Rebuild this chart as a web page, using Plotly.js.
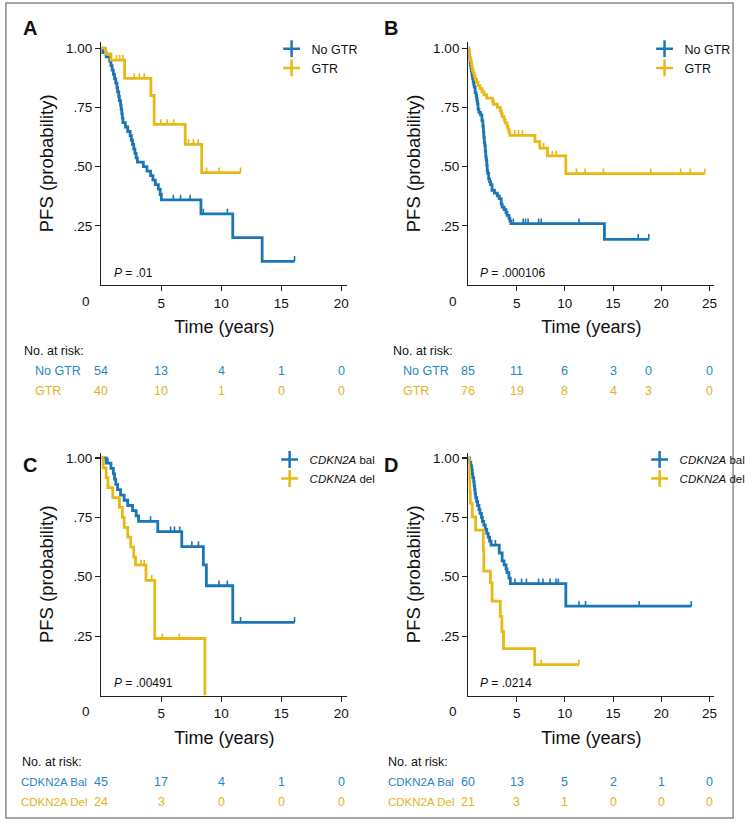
<!DOCTYPE html>
<html>
<head>
<meta charset="utf-8">
<script src="https://cdn.plot.ly/plotly-3.0.1.min.js"></script>
<style>
  html, body { margin: 0; padding: 0; background: #fff; }
  #chart { width: 751px; height: 823px; }
</style>
</head>
<body>
<div id="chart"></div>
<script>
// ---- Panel A: GTR vs no GTR (cohort 1) ----
const aNoGtrTime = [0.1,0.4,0.7,0.8,0.9,1.0,1.1,1.2,1.3,1.35,1.45,1.5,1.6,1.65,1.7,1.75,1.8,2.0,2.2,2.4,2.5,2.6,2.7,2.8,2.9,3.0,3.5,3.8,4.1,4.3,4.5,4.75,4.9,5.0,8.3,10.95,13.4];
const aNoGtrSurv = [.981,.963,.944,.926,.907,.889,.870,.852,.833,.815,.796,.778,.759,.741,.722,.704,.685,.667,.648,.630,.611,.593,.574,.556,.537,.519,.500,.481,.462,.443,.424,.405,.382,.359,.30,.20,.10];
const aNoGtrCensor = [6.0,6.6,7.4,8.5,10.5,16.1];
const aNoGtrEnd = 16.1;
const aGtrTime = [0.35,0.8,1.94,4.13,4.4,6.99,8.36];
const aGtrSurv = [0.975,0.949,0.872,0.80,0.678,0.594,0.474];
const aGtrCensor = [1.26,1.53,1.8,2.75,3.16,3.57,4.95,5.49,6.04,7.26,7.67,8.08,8.77,9.8,11.6];
const aGtrEnd = 11.6;
const aRiskNoGtr = [54,13,4,1,0];
const aRiskGtr = [40,10,1,0,0];

// ---- Panel B: GTR vs no GTR (cohort 2) ----
const bNoGtrTime = [0.03,0.06,0.1,0.13,0.16,0.2,0.25,0.3,0.35,0.4,0.45,0.5,0.55,0.6,0.7,0.8,0.85,0.9,0.95,1.0,1.1,1.25,1.4,1.5,1.55,1.6,1.65,1.7,1.75,1.8,1.85,1.9,1.95,2.0,2.1,2.2,2.3,2.45,2.7,3.0,3.2,3.4,3.5,3.7,3.9,4.0,4.2,4.3,4.4,14.1];
const bNoGtrSurv = [.988,.976,.965,.953,.941,.929,.918,.906,.894,.882,.871,.859,.847,.835,.812,.800,.788,.776,.765,.741,.729,.718,.694,.671,.647,.624,.600,.588,.565,.541,.529,.506,.482,.471,.447,.435,.424,.400,.388,.376,.365,.341,.329,.318,.306,.294,.282,.271,.259,.193];
const bNoGtrCensor = [4.66,5.68,5.92,6.19,7.28,7.55,11.46,17.6,18.7];
const bNoGtrEnd = 18.7;
const bGtrTime = [0.05,0.1,0.15,0.2,0.3,0.35,0.4,0.5,0.6,0.7,0.85,1.0,1.2,1.4,1.6,1.9,2.5,2.6,3.0,3.3,3.4,3.5,3.7,3.8,4.0,4.1,4.2,4.3,6.9,7.4,8.2,10.1];
const bGtrSurv = [.987,.974,.961,.947,.934,.921,.908,.895,.882,.868,.855,.842,.829,.816,.803,.789,.776,.763,.750,.737,.724,.711,.697,.684,.671,.658,.645,.632,.605,.578,.545,.470];
const bGtrCensor = [4.8,5.2,5.6,7.8,8.7,9.1,11.2,12.1,14.0,18.9,22.0,23.0,24.5];
const bGtrEnd = 24.5;
const bRiskNoGtr = [85,11,6,3,0,0];
const bRiskGtr = [76,19,8,4,3,0];

// ---- Panel C: CDKN2A balanced vs deleted (cohort 1) ----
const cBalTime = [0.4,0.8,1.0,1.1,1.2,1.35,1.6,1.9,2.2,2.6,2.9,3.1,4.7,6.7,8.5,8.75,10.95];
const cBalSurv = [.978,.956,.933,.911,.889,.867,.844,.822,.800,.778,.756,.733,.690,.627,.550,.462,.308];
const cBalCensor = [0.55,4.1,5.77,6.09,6.53,7.54,8.09,9.8,10.5,11.6,16.1];
const cBalEnd = 16.1;
const cDelTime = [0.15,0.4,0.55,0.95,1.5,1.75,1.9,2.2,2.45,2.7,2.85,3.72,4.45,8.63];
const cDelSurv = [.958,.917,.875,.833,.792,.750,.708,.667,.625,.583,.550,.485,.240,0];
const cDelCensor = [3.3,3.57,4.2,5.08,6.5];
const cDelEnd = 8.63;
const cRiskBal = [45,17,4,1,0];
const cRiskDel = [24,3,0,0,0];

// ---- Panel D: CDKN2A balanced vs deleted (cohort 2) ----
const dBalTime = [0.1,0.25,0.35,0.4,0.45,0.55,0.6,0.65,0.7,0.75,0.85,0.95,1.1,1.2,1.35,1.45,1.6,1.75,1.9,2.05,2.2,2.35,3.2,3.5,3.7,3.9,4.0,4.2,4.35,10.1];
const dBalSurv = [.983,.967,.950,.933,.917,.900,.883,.867,.850,.833,.817,.800,.783,.767,.750,.733,.717,.700,.683,.667,.650,.633,.600,.567,.550,.533,.517,.494,.471,.376];
const dBalCensor = [2.8,4.83,5.51,6.02,7.28,7.73,8.47,9.08,9.32,11.46,12.14,17.7,23.1];
const dBalEnd = 23.1;
const dDelTime = [0.05,0.1,0.15,0.2,0.4,0.75,1.55,1.6,2.28,2.45,3.3,3.47,3.64,6.87];
const dDelSurv = [.952,.905,.857,.810,.752,.696,.610,.524,.475,.397,.333,.270,.197,.130];
const dDelCensor = [7.55,11.46];
const dDelEnd = 11.46;
const dRiskBal = [60,13,5,2,1,0];
const dRiskDel = [21,3,1,0,0,0];

// ---- shared labels ----
const riskTimes20 = [0,5,10,15,20];
const riskTimes25 = [0,5,10,15,20,25];
const xTicks20 = [5,10,15,20];
const xTicks25 = [5,10,15,20,25];
const yTickVals = [0.25,0.5,0.75,1.0];
const yTickText = ['.25','.50','.75','1.00'];
const pValues = ['.01','.000106','.00491','.0214'];

const W = 751, H = 823;
const BLUE = '#1a76b4', GOLD = '#e8b816';
const BLUE_TXT = '#2488c4', GOLD_TXT = '#e0b41c';
const SANS = '"Liberation Sans", Arial, Helvetica, sans-serif';
const px = v => v / W;
const py = v => 1 - v / H;

function survAt(times, surv, t) {
  let s = 1;
  for (let i = 0; i < times.length; i++) if (times[i] <= t) s = surv[i];
  return s;
}
function stepTrace(times, surv, end, color, xa, ya) {
  const x = [0].concat(times), y = [1].concat(surv);
  if (end > times[times.length - 1]) { x.push(end); y.push(surv[surv.length - 1]); }
  return { type: 'scatter', mode: 'lines', x, y, xaxis: xa, yaxis: ya,
    line: { shape: 'hv', color, width: 2.8 }, showlegend: false, hoverinfo: 'skip' };
}
// censoring marks: short upward ticks on the curve
function censorTrace(times, surv, cens, color, xa, ya) {
  return { type: 'scatter', mode: 'markers', x: cens, y: cens.map(c => survAt(times, surv, c)),
    xaxis: xa, yaxis: ya, marker: { size: 1, color }, showlegend: false, hoverinfo: 'skip',
    error_y: { type: 'data', symmetric: false, array: cens.map(() => 0.022),
      arrayminus: cens.map(() => 0), width: 0, thickness: 1.6, color } };
}
function legendTrace(name, color, xa, ya, legend) {
  return { type: 'scatter', mode: 'markers', x: [null], y: [null], xaxis: xa, yaxis: ya, name, legend,
    marker: { symbol: 'cross-thin', size: 12, color, line: { width: 2.5, color } }, hoverinfo: 'skip' };
}

const traces = [
  stepTrace(aNoGtrTime, aNoGtrSurv, aNoGtrEnd, BLUE, 'x', 'y'),
  censorTrace(aNoGtrTime, aNoGtrSurv, aNoGtrCensor, BLUE, 'x', 'y'),
  stepTrace(aGtrTime, aGtrSurv, aGtrEnd, GOLD, 'x', 'y'),
  censorTrace(aGtrTime, aGtrSurv, aGtrCensor, GOLD, 'x', 'y'),
  legendTrace('No GTR', BLUE, 'x', 'y', 'legend'),
  legendTrace('GTR', GOLD, 'x', 'y', 'legend'),

  stepTrace(bNoGtrTime, bNoGtrSurv, bNoGtrEnd, BLUE, 'x2', 'y2'),
  censorTrace(bNoGtrTime, bNoGtrSurv, bNoGtrCensor, BLUE, 'x2', 'y2'),
  stepTrace(bGtrTime, bGtrSurv, bGtrEnd, GOLD, 'x2', 'y2'),
  censorTrace(bGtrTime, bGtrSurv, bGtrCensor, GOLD, 'x2', 'y2'),
  legendTrace('No GTR', BLUE, 'x2', 'y2', 'legend2'),
  legendTrace('GTR', GOLD, 'x2', 'y2', 'legend2'),

  stepTrace(cBalTime, cBalSurv, cBalEnd, BLUE, 'x3', 'y3'),
  censorTrace(cBalTime, cBalSurv, cBalCensor, BLUE, 'x3', 'y3'),
  stepTrace(cDelTime, cDelSurv, cDelEnd, GOLD, 'x3', 'y3'),
  censorTrace(cDelTime, cDelSurv, cDelCensor, GOLD, 'x3', 'y3'),
  legendTrace('<i>CDKN2A</i> bal', BLUE, 'x3', 'y3', 'legend3'),
  legendTrace('<i>CDKN2A</i> del', GOLD, 'x3', 'y3', 'legend3'),

  stepTrace(dBalTime, dBalSurv, dBalEnd, BLUE, 'x4', 'y4'),
  censorTrace(dBalTime, dBalSurv, dBalCensor, BLUE, 'x4', 'y4'),
  stepTrace(dDelTime, dDelSurv, dDelEnd, GOLD, 'x4', 'y4'),
  censorTrace(dDelTime, dDelSurv, dDelCensor, GOLD, 'x4', 'y4'),
  legendTrace('<i>CDKN2A</i> bal', BLUE, 'x4', 'y4', 'legend4'),
  legendTrace('<i>CDKN2A</i> del', GOLD, 'x4', 'y4', 'legend4')
];

function xAxis(domain, xmax, ticks, anchor) {
  return { domain, range: [0, xmax], anchor, tickvals: ticks, ticktext: ticks.map(String),
    ticks: 'outside', ticklen: 5, tickwidth: 1.2, tickcolor: '#222',
    showline: true, linecolor: '#222', linewidth: 1.3, showgrid: false, zeroline: false,
    tickfont: { family: SANS, size: 13.5, color: '#111' },
    title: { text: 'Time (years)', font: { family: SANS, size: 18, color: '#111' }, standoff: 11 },
    fixedrange: true };
}
function yAxis(domain, ymax, anchor) {
  return { domain, range: [0, ymax], anchor, tickvals: yTickVals, ticktext: yTickText,
    ticks: 'outside', ticklen: 5, tickwidth: 1.2, tickcolor: '#222',
    showline: true, linecolor: '#222', linewidth: 1.3, showgrid: false, zeroline: false,
    tickfont: { family: SANS, size: 13.5, color: '#111' },
    title: { text: 'PFS (probability)', font: { family: SANS, size: 18.5, color: '#111' }, standoff: 7 },
    fixedrange: true };
}

const domXLeft = [px(103), px(353)], domXRight = [px(476), px(726)];
const domYTop = [py(285), py(41.7)], domYBottom = [py(695.5), py(453)];

const annotations = [];
function addText(text, x, y, opts) {
  annotations.push(Object.assign({ text, x, y, xref: 'paper', yref: 'paper', showarrow: false,
    xanchor: 'left', yanchor: 'middle', font: { family: SANS, size: 12.5, color: '#111' } }, opts || {}));
}

// panel letters
[['A', 30, 28], ['B', 397, 28], ['C', 30, 465], ['D', 397, 465]].forEach(([t, x, y]) =>
  addText('<b>' + t + '</b>', px(x), py(y), { xanchor: 'center',
    font: { family: SANS, size: 20, color: '#111' } }));

// origin labels sit just left of the axis corner
[['x', 301], ['x2', 301], ['x3', 711], ['x4', 711]].forEach(([xa, y]) =>
  annotations.push({ text: '0', x: 0, y: py(y), xref: xa, yref: 'paper', xshift: -15, showarrow: false,
    xanchor: 'center', yanchor: 'middle', font: { family: SANS, size: 13.5, color: '#111' } }));

// P values
[[114, 273], [486, 273], [114, 683], [486, 683]].forEach(([x, y], i) =>
  addText('<i>P</i> = ' + pValues[i], px(x), py(y), { font: { family: SANS, size: 12, color: '#111' } }));

// numbers at risk tables
function riskTable(xa, times, rows, headerX, labelX, yHead, labelSize, shiftAt) {
  addText('No. at risk:', px(headerX), py(yHead));
  rows.forEach(([label, counts, color], r) => {
    const y = py(yHead + 20 + r * 19.5);
    addText(label, px(labelX), y, { font: { family: SANS, size: labelSize, color } });
    counts.forEach((n, i) => annotations.push({ text: String(n), x: times[i], y, xref: xa, yref: 'paper',
      xshift: (shiftAt && shiftAt[0] === times[i]) ? shiftAt[1] : 0,
      showarrow: false, xanchor: 'center', yanchor: 'middle',
      font: { family: SANS, size: 12.5, color } }));
  });
}
riskTable('x', riskTimes20, [['No GTR', aRiskNoGtr, BLUE_TXT], ['GTR', aRiskGtr, GOLD_TXT]], 22, 34, 351, 12.5);
riskTable('x2', riskTimes25, [['No GTR', bRiskNoGtr, BLUE_TXT], ['GTR', bRiskGtr, GOLD_TXT]], 397, 408, 351, 12.5, [20, -13]);
riskTable('x3', riskTimes20, [['CDKN2A Bal', cRiskBal, BLUE_TXT], ['CDKN2A Del', cRiskDel, GOLD_TXT]], 20, 19, 762, 11.5);
riskTable('x4', riskTimes25, [['CDKN2A Bal', dRiskBal, BLUE_TXT], ['CDKN2A Del', dRiskDel, GOLD_TXT]], 392, 392, 762, 11.5);

function legendBox(xLeft, yTop, size) {
  return { x: px(xLeft), y: py(yTop), xanchor: 'left', yanchor: 'top', bgcolor: 'rgba(0,0,0,0)',
    borderwidth: 0, tracegroupgap: 0, itemclick: false, itemdoubleclick: false,
    font: { family: SANS, size, color: '#111' } };
}

const layout = {
  width: W, height: H, margin: { l: 0, r: 0, t: 0, b: 0 },
  paper_bgcolor: '#fff', plot_bgcolor: '#fff',
  xaxis: xAxis(domXLeft, 20.5, xTicks20, 'y'),
  yaxis: yAxis(domYTop, 1.027, 'x'),
  xaxis2: xAxis(domXRight, 25.5, xTicks25, 'y2'),
  yaxis2: yAxis(domYTop, 1.027, 'x2'),
  xaxis3: xAxis(domXLeft, 20.5, xTicks20, 'y3'),
  yaxis3: yAxis(domYBottom, 1.021, 'x3'),
  xaxis4: xAxis(domXRight, 25.5, xTicks25, 'y4'),
  yaxis4: yAxis(domYBottom, 1.021, 'x4'),
  legend: legendBox(276, 34, 12.5),
  legend2: legendBox(655, 34, 12.5),
  legend3: legendBox(274, 445, 11.5),
  legend4: legendBox(650, 445, 11.5),
  annotations,
  shapes: [{ type: 'rect', xref: 'paper', yref: 'paper', x0: px(6), x1: px(745), y0: py(818), y1: py(3),
    line: { color: '#8a8a8a', width: 1.5 }, fillcolor: 'rgba(0,0,0,0)' }]
};

Plotly.newPlot('chart', traces, layout, { staticPlot: true, displayModeBar: false });
</script>
</body>
</html>
